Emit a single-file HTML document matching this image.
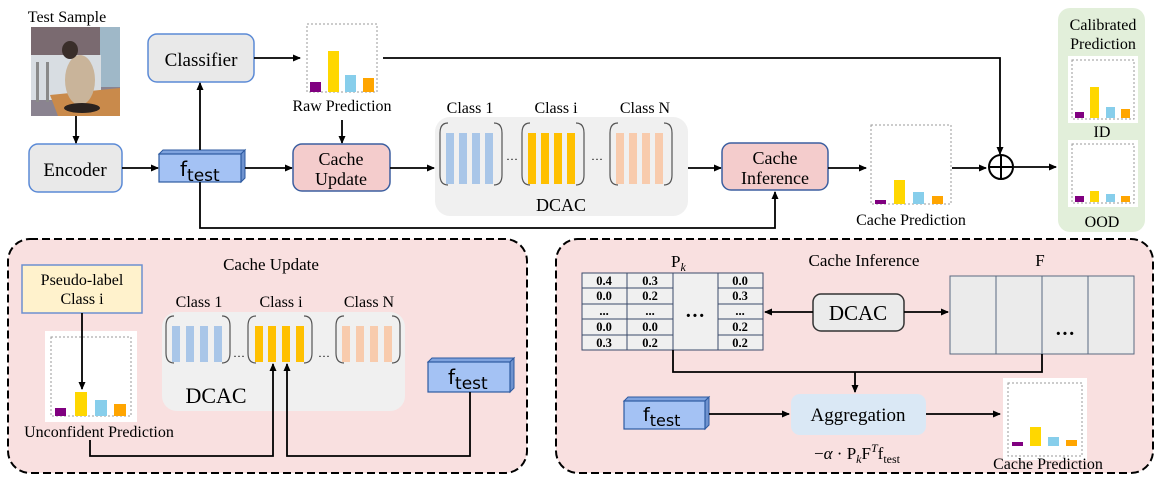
<!DOCTYPE html>
<html><head><meta charset="utf-8"><style>
body{margin:0;background:#fff}
svg{display:block;font-family:"Liberation Serif",serif}
.s{font-family:"DejaVu Sans","Liberation Sans",sans-serif}
</style></head><body>
<svg width="1163" height="486" viewBox="0 0 1163 486" xmlns="http://www.w3.org/2000/svg">
<defs>
<marker id="a" markerWidth="8" markerHeight="8" refX="7" refY="4" orient="auto" markerUnits="userSpaceOnUse"><path d="M0,0.5 L8,4 L0,7.5 Z" fill="#000"/></marker>
</defs>

<!-- Test sample -->
<text x="67" y="22" font-size="16" text-anchor="middle">Test Sample</text>
<rect x="31" y="27" width="89" height="89" fill="#8a8390"/>
<rect x="31" y="27" width="89" height="30" fill="#7a6a70"/>
<rect x="100" y="27" width="20" height="60" fill="#9fb8c8"/>
<rect x="31" y="55" width="70" height="45" fill="#d8dde2"/>
<rect x="36" y="62" width="3" height="40" fill="#8a8a8a"/><rect x="46" y="62" width="3" height="40" fill="#8a8a8a"/><rect x="86" y="62" width="3" height="40" fill="#8a8a8a"/>
<polygon points="50,95 120,88 120,116 58,116" fill="#c98a4b"/>
<ellipse cx="80" cy="80" rx="15" ry="25" fill="#c9b49a"/>
<ellipse cx="70" cy="50" rx="8" ry="9" fill="#3a2e2a"/>
<ellipse cx="82" cy="108" rx="18" ry="5" fill="#2a221f"/>

<!-- top row boxes -->
<rect x="29" y="144" width="93" height="48" rx="9" fill="#e9e9e9" stroke="#5b8ad6" stroke-width="1.5"/>
<text x="75" y="176" font-size="19" text-anchor="middle">Encoder</text>
<rect x="148" y="34" width="106" height="48" rx="9" fill="#e9e9e9" stroke="#5b8ad6" stroke-width="1.5"/>
<text x="201" y="66" font-size="19" text-anchor="middle">Classifier</text>

<polygon points="159,154 163,150 245,150 241,154" fill="#7fa3de" stroke="#2d5aa0"/>
<polygon points="241,154 245,150 245,178 241,182" fill="#6f93cf" stroke="#2d5aa0"/>
<rect x="159" y="154" width="82" height="28" fill="#a4c2f4" stroke="#2d5aa0" stroke-width="1.2"/>
<text x="180" y="176" font-size="20" class="s">f<tspan font-size="17" dy="5">test</tspan></text>

<line x1="76" y1="116" x2="76" y2="143" stroke="#000" stroke-width="1.8" marker-end="url(#a)"/>
<line x1="122" y1="168" x2="158" y2="168" stroke="#000" stroke-width="1.8" marker-end="url(#a)"/>
<line x1="200" y1="150" x2="200" y2="83" stroke="#000" stroke-width="1.8" marker-end="url(#a)"/>
<line x1="254" y1="58" x2="300" y2="58" stroke="#000" stroke-width="1.8" marker-end="url(#a)"/>
<line x1="245" y1="168" x2="292" y2="168" stroke="#000" stroke-width="1.8" marker-end="url(#a)"/>

<rect x="307" y="24" width="70" height="68" fill="#fff" stroke="#999" stroke-dasharray="2,2"/>
<rect x="310" y="82" width="11" height="10" fill="#800080"/>
<rect x="328" y="51" width="11" height="41" fill="#ffd700"/>
<rect x="345" y="75" width="11" height="17" fill="#87ceeb"/>
<rect x="363" y="78" width="11" height="14" fill="#ffa500"/>
<text x="342" y="111" font-size="16" text-anchor="middle">Raw Prediction</text>
<line x1="342" y1="120" x2="342" y2="143" stroke="#000" stroke-width="1.8" marker-end="url(#a)"/>
<polyline points="383,58 1000,58 1000,154" fill="none" stroke="#000" stroke-width="1.8" marker-end="url(#a)"/>

<rect x="293" y="144" width="97" height="47" rx="9" fill="#f4cccc" stroke="#3d5fa0" stroke-width="1.5"/>
<text x="341" y="165" font-size="18" text-anchor="middle">Cache</text>
<text x="341" y="185" font-size="18" text-anchor="middle">Update</text>
<line x1="390" y1="168" x2="434" y2="168" stroke="#000" stroke-width="1.8" marker-end="url(#a)"/>

<rect x="435" y="117" width="253" height="99" rx="15" fill="#f0f0f0"/>
<text x="470" y="113" font-size="16" text-anchor="middle">Class 1</text>
<text x="556" y="113" font-size="16" text-anchor="middle">Class i</text>
<text x="645" y="113" font-size="16" text-anchor="middle">Class N</text>
<text x="561" y="211" font-size="18" text-anchor="middle">DCAC</text>
<path d="M448,123 Q440,123 440,133 L440,175 Q440,185 448,185 M494,123 Q502,123 502,133 L502,175 Q502,185 494,185" fill="none" stroke="#555" stroke-width="1.2"/>
<g fill="#a9c6e8"><rect x="446" y="133" width="8" height="51"/><rect x="459" y="133" width="8" height="51"/><rect x="472" y="133" width="8" height="51"/><rect x="485" y="133" width="8" height="51"/></g>
<path d="M530,123 Q522,123 522,133 L522,175 Q522,185 530,185 M576,123 Q584,123 584,133 L584,175 Q584,185 576,185" fill="none" stroke="#555" stroke-width="1.2"/>
<g fill="#ffc000"><rect x="528" y="133" width="8" height="51"/><rect x="541" y="133" width="8" height="51"/><rect x="554" y="133" width="8" height="51"/><rect x="567" y="133" width="8" height="51"/></g>
<path d="M618,123 Q610,123 610,133 L610,175 Q610,185 618,185 M664,123 Q672,123 672,133 L672,175 Q672,185 664,185" fill="none" stroke="#555" stroke-width="1.2"/>
<g fill="#f8cbad"><rect x="616" y="133" width="8" height="51"/><rect x="629" y="133" width="8" height="51"/><rect x="642" y="133" width="8" height="51"/><rect x="655" y="133" width="8" height="51"/></g>
<text x="512" y="163" font-size="12" text-anchor="middle">···</text>
<text x="597" y="163" font-size="12" text-anchor="middle">···</text>

<line x1="688" y1="168" x2="721" y2="168" stroke="#000" stroke-width="1.8" marker-end="url(#a)"/>
<rect x="722" y="143" width="106" height="47" rx="9" fill="#f4cccc" stroke="#3d5fa0" stroke-width="1.5"/>
<text x="775" y="164" font-size="18" text-anchor="middle">Cache</text>
<text x="775" y="184" font-size="18" text-anchor="middle">Inference</text>
<polyline points="200,182 200,228 775,228 775,192" fill="none" stroke="#000" stroke-width="1.8" marker-end="url(#a)"/>
<line x1="828" y1="168" x2="866" y2="168" stroke="#000" stroke-width="1.8" marker-end="url(#a)"/>

<rect x="871" y="125" width="80" height="79" fill="#fff" stroke="#999" stroke-dasharray="2,2"/>
<rect x="875" y="200" width="11" height="4" fill="#800080"/>
<rect x="894" y="180" width="11" height="24" fill="#ffd700"/>
<rect x="913" y="192" width="11" height="12" fill="#87ceeb"/>
<rect x="932" y="196" width="11" height="8" fill="#ffa500"/>
<text x="911" y="225" font-size="16" text-anchor="middle">Cache Prediction</text>
<line x1="952" y1="168" x2="986" y2="168" stroke="#000" stroke-width="1.8" marker-end="url(#a)"/>
<circle cx="1001" cy="167" r="12" fill="none" stroke="#000" stroke-width="2"/>
<line x1="989" y1="167" x2="1013" y2="167" stroke="#000" stroke-width="2"/>
<line x1="1001" y1="155" x2="1001" y2="179" stroke="#000" stroke-width="2"/>
<line x1="1014" y1="167" x2="1056" y2="167" stroke="#000" stroke-width="1.8" marker-end="url(#a)"/>

<rect x="1058" y="8" width="87" height="224" rx="12" fill="#e2efda"/>
<text x="1103" y="30" font-size="16" text-anchor="middle">Calibrated</text>
<text x="1103" y="49" font-size="16" text-anchor="middle">Prediction</text>
<rect x="1068" y="56" width="70" height="67" fill="#fff"/>
<rect x="1072" y="60" width="62" height="59" fill="none" stroke="#999" stroke-dasharray="2,2"/>
<rect x="1075" y="112" width="9" height="6" fill="#800080"/>
<rect x="1090" y="87" width="9" height="31" fill="#ffd700"/>
<rect x="1106" y="107" width="9" height="11" fill="#87ceeb"/>
<rect x="1121" y="109" width="9" height="9" fill="#ffa500"/>
<text x="1102" y="137" font-size="16" text-anchor="middle">ID</text>
<rect x="1068" y="140" width="70" height="67" fill="#fff"/>
<rect x="1072" y="144" width="62" height="59" fill="none" stroke="#999" stroke-dasharray="2,2"/>
<rect x="1075" y="196" width="9" height="6" fill="#800080"/>
<rect x="1090" y="191" width="9" height="11" fill="#ffd700"/>
<rect x="1106" y="194" width="9" height="8" fill="#87ceeb"/>
<rect x="1121" y="196" width="9" height="6" fill="#ffa500"/>
<text x="1102" y="227" font-size="16" text-anchor="middle">OOD</text>

<!-- bottom-left panel -->
<rect x="8" y="239" width="519" height="234" rx="22" fill="#f9e0e0" stroke="#000" stroke-width="2" stroke-dasharray="8,4"/>
<text x="271" y="270" font-size="17" text-anchor="middle">Cache Update</text>
<rect x="22" y="265" width="120" height="48" fill="#fff2cc" stroke="#6d8fd0" stroke-width="1.5"/>
<text x="82" y="285" font-size="16" text-anchor="middle">Pseudo-label</text>
<text x="82" y="304" font-size="16" text-anchor="middle">Class i</text>
<rect x="45" y="331" width="92" height="91" fill="#fff"/>
<rect x="51" y="337" width="80" height="79" fill="none" stroke="#999" stroke-dasharray="2,2"/>
<rect x="55" y="408" width="11" height="8" fill="#800080"/>
<rect x="75" y="392" width="12" height="24" fill="#ffd700"/>
<rect x="95" y="400" width="12" height="16" fill="#87ceeb"/>
<rect x="114" y="404" width="12" height="12" fill="#ffa500"/>
<line x1="82" y1="313" x2="82" y2="389" stroke="#000" stroke-width="1.8" marker-end="url(#a)"/>
<text x="99" y="437" font-size="16" text-anchor="middle">Unconfident Prediction</text>

<rect x="162" y="312" width="243" height="99" rx="15" fill="#f0f0f0"/>
<text x="199" y="307" font-size="16" text-anchor="middle">Class 1</text>
<text x="281" y="307" font-size="16" text-anchor="middle">Class i</text>
<text x="369" y="307" font-size="16" text-anchor="middle">Class N</text>
<text x="216" y="403" font-size="22" text-anchor="middle">DCAC</text>
<path d="M174,316 Q166,316 166,326 L166,353 Q166,363 174,363 M222,316 Q230,316 230,326 L230,353 Q230,363 222,363" fill="none" stroke="#555" stroke-width="1.2"/>
<g fill="#a9c6e8"><rect x="172" y="326" width="8" height="36"/><rect x="186" y="326" width="8" height="36"/><rect x="200" y="326" width="8" height="36"/><rect x="214" y="326" width="8" height="36"/></g>
<path d="M256,316 Q248,316 248,326 L248,353 Q248,363 256,363 M304,316 Q312,316 312,326 L312,353 Q312,363 304,363" fill="none" stroke="#555" stroke-width="1.2"/>
<g fill="#ffc000"><rect x="255" y="326" width="8" height="36"/><rect x="268" y="326" width="8" height="36"/><rect x="282" y="326" width="8" height="36"/><rect x="296" y="326" width="8" height="36"/></g>
<path d="M344,316 Q336,316 336,326 L336,353 Q336,363 344,363 M392,316 Q400,316 400,326 L400,353 Q400,363 392,363" fill="none" stroke="#555" stroke-width="1.2"/>
<g fill="#f8cbad"><rect x="342" y="326" width="8" height="36"/><rect x="356" y="326" width="8" height="36"/><rect x="370" y="326" width="8" height="36"/><rect x="384" y="326" width="8" height="36"/></g>
<text x="239" y="360" font-size="12" text-anchor="middle">···</text>
<text x="324" y="360" font-size="12" text-anchor="middle">···</text>

<polygon points="428,362 432,358 514,358 510,362" fill="#7fa3de" stroke="#2d5aa0"/>
<polygon points="510,362 514,358 514,388 510,392" fill="#6f93cf" stroke="#2d5aa0"/>
<rect x="428" y="362" width="82" height="30" fill="#a4c2f4" stroke="#2d5aa0" stroke-width="1.2"/>
<text x="448" y="384" font-size="20" class="s">f<tspan font-size="17" dy="5">test</tspan></text>

<polyline points="90,440 90,456 273,456 273,364" fill="none" stroke="#000" stroke-width="1.8" marker-end="url(#a)"/>
<polyline points="470,392 470,456 287,456 287,364" fill="none" stroke="#000" stroke-width="1.8" marker-end="url(#a)"/>

<!-- bottom-right panel -->
<rect x="556" y="239" width="597" height="234" rx="22" fill="#f9e0e0" stroke="#000" stroke-width="2" stroke-dasharray="8,4"/>
<text x="864" y="266" font-size="17" text-anchor="middle">Cache Inference</text>
<text x="671" y="267" font-size="17">P<tspan font-size="12" dy="4" font-style="italic">k</tspan></text>
<text x="1040" y="266" font-size="17" text-anchor="middle">F</text>
<g stroke="#3a4a6a" stroke-width="1">
<rect x="582" y="273" width="181" height="77" fill="#f0f0f0"/>
<line x1="627" y1="273" x2="627" y2="350"/><line x1="673" y1="273" x2="673" y2="350"/><line x1="718" y1="273" x2="718" y2="350"/>
<line x1="582" y1="288" x2="673" y2="288"/><line x1="582" y1="304" x2="673" y2="304"/><line x1="582" y1="319" x2="673" y2="319"/><line x1="582" y1="335" x2="673" y2="335"/>
<line x1="718" y1="288" x2="763" y2="288"/><line x1="718" y1="304" x2="763" y2="304"/><line x1="718" y1="319" x2="763" y2="319"/><line x1="718" y1="335" x2="763" y2="335"/>
</g>
<g font-size="12.5" font-weight="bold" text-anchor="middle">
<text x="604" y="285">0.4</text><text x="650" y="285">0.3</text><text x="740" y="285">0.0</text>
<text x="604" y="300">0.0</text><text x="650" y="300">0.2</text><text x="740" y="300">0.3</text>
<text x="604" y="315">...</text><text x="650" y="315">...</text><text x="740" y="315">...</text>
<text x="604" y="331">0.0</text><text x="650" y="331">0.0</text><text x="740" y="331">0.2</text>
<text x="604" y="347">0.3</text><text x="650" y="347">0.2</text><text x="740" y="347">0.2</text>
</g>
<text x="695" y="322" font-size="20" font-weight="bold" text-anchor="middle">···</text>
<rect x="950" y="276" width="184" height="78" fill="#ebebeb" stroke="#5a6a80"/>
<line x1="996" y1="276" x2="996" y2="354" stroke="#5a6a80"/><line x1="1042" y1="276" x2="1042" y2="354" stroke="#5a6a80"/><line x1="1088" y1="276" x2="1088" y2="354" stroke="#5a6a80"/>
<text x="1065" y="340" font-size="20" font-weight="bold" text-anchor="middle">···</text>
<rect x="813" y="294" width="91" height="37" rx="8" fill="#ebebeb" stroke="#333" stroke-width="1.5"/>
<text x="858" y="320" font-size="21" text-anchor="middle">DCAC</text>
<line x1="813" y1="312" x2="765" y2="312" stroke="#000" stroke-width="1.8" marker-end="url(#a)"/>
<line x1="904" y1="312" x2="948" y2="312" stroke="#000" stroke-width="1.8" marker-end="url(#a)"/>
<polyline points="673,350 673,372 1042,372 1042,354" fill="none" stroke="#000" stroke-width="1.8"/>
<line x1="855" y1="372" x2="855" y2="392" stroke="#000" stroke-width="1.8" marker-end="url(#a)"/>
<polygon points="624,401 628,397 709,397 705,401" fill="#7fa3de" stroke="#2d5aa0"/>
<polygon points="705,401 709,397 709,425 705,429" fill="#6f93cf" stroke="#2d5aa0"/>
<rect x="624" y="401" width="81" height="28" fill="#a4c2f4" stroke="#2d5aa0" stroke-width="1.2"/>
<text x="643" y="421" font-size="19" class="s">f<tspan font-size="16" dy="5">test</tspan></text>
<line x1="709" y1="414" x2="789" y2="414" stroke="#000" stroke-width="1.8" marker-end="url(#a)"/>
<rect x="791" y="394" width="135" height="41" rx="9" fill="#dae8f5"/>
<text x="858" y="421" font-size="19" text-anchor="middle">Aggregation</text>
<line x1="926" y1="414" x2="1000" y2="414" stroke="#000" stroke-width="1.8" marker-end="url(#a)"/>
<text x="857" y="459" font-size="17" text-anchor="middle">−<tspan font-style="italic">α</tspan> · P<tspan font-size="12" font-style="italic" dy="4">k</tspan><tspan dy="-4">F</tspan><tspan font-size="12" font-style="italic" dy="-7">T</tspan><tspan dy="7">f</tspan><tspan font-size="12" dy="4">test</tspan></text>
<rect x="1003" y="378" width="84" height="82" fill="#fff"/>
<rect x="1008" y="383" width="74" height="73" fill="none" stroke="#999" stroke-dasharray="2,2"/>
<rect x="1012" y="442" width="11" height="4" fill="#800080"/>
<rect x="1030" y="427" width="11" height="19" fill="#ffd700"/>
<rect x="1048" y="437" width="11" height="9" fill="#87ceeb"/>
<rect x="1066" y="440" width="11" height="6" fill="#ffa500"/>
<text x="1048" y="469" font-size="16" text-anchor="middle">Cache Prediction</text>
</svg>
</body></html>
